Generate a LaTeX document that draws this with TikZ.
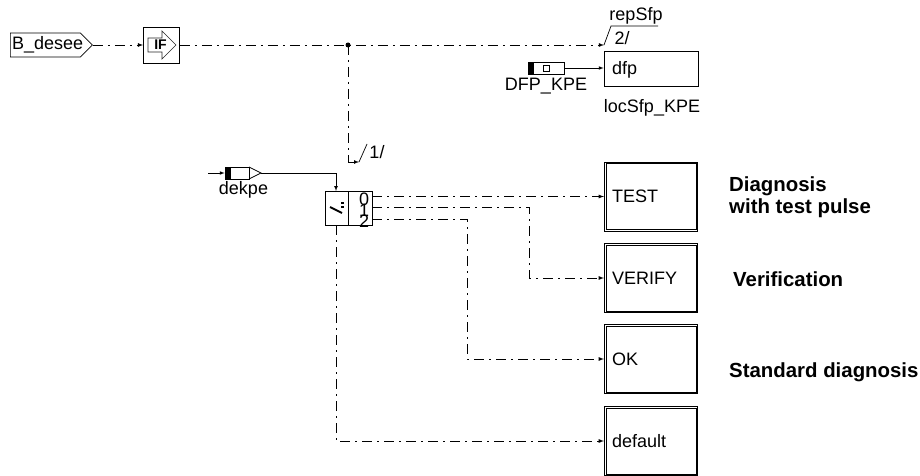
\documentclass[tikz,border=0pt]{standalone}
\usepackage{fontspec}
\setmainfont{Liberation Sans}
\usetikzlibrary{shapes.symbols}
\tikzset{
  flow/.style={->,>=latex,line width=0.8pt,dash pattern=on 10pt off 5pt on 2pt off 5pt},
  wire/.style={->,>=latex,line width=0.7pt},
  outerbox/.style={draw,line width=0.7pt,minimum width=93.5pt,minimum height=69pt},
  txt/.style={inner sep=0pt,font=\fontsize{18}{20}\selectfont},
  bold/.style={txt,anchor=west,font=\fontsize{20.4}{23}\selectfont\bfseries},
}
\begin{document}
\begin{tikzpicture}[x=1pt,y=-1pt]
  \useasboundingbox (0,0) rectangle (920,476);
  % input and if block
  \node[draw,signal,signal to=east,signal pointer angle=90,line width=0.7pt,inner sep=0pt,
    minimum width=82pt,minimum height=24pt,anchor=west] (desee) at (10,45) {};
  \node[txt,anchor=west] (deseetxt) at (12,45) {B\_desee};
  \node[draw,line width=0.8pt,minimum size=36pt,inner sep=0pt] (ifblk) at (161.5,45) {};
  \draw[line width=0.7pt,draw=black!85] (148,38)--(162,38)--(162,31)--(176,45)--(162,59)--(162,52)--(148,52)--cycle;
  \node[inner sep=0pt,font=\fontsize{14}{16}\selectfont\bfseries] (iftxt) at (160.5,45) {IF};
  \draw[flow] (desee.east)--(ifblk.west);
  \coordinate (split) at (348,45);
  \coordinate (repin) at (604,45);
  \draw[flow] (ifblk.east)--(repin);
  \fill (split) circle (2.5pt);
  % reference at the top
  \coordinate (reptop) at (611,26);
  \coordinate (repend) at (658,26);
  \draw[line width=0.7pt] (repin)--(reptop)--(repend);
  \node[txt] (repname) at (636,16) {repSfp};
  \node[txt] (repnum) at (622,38) {2/};
  \node[draw,line width=0.7pt,minimum width=94pt,minimum height=35pt] (dfp) at (651,68.5) {};
  \node[txt,anchor=west] (dfptxt) at (612,70) {dfp};
  \node[draw,line width=0.7pt,minimum width=36pt,minimum height=12pt,inner sep=0pt] (kpe) at (546,68) {};
  \fill (528,62) rectangle (534,74);
  \node[draw,line width=0.7pt,minimum size=6pt,inner sep=0pt] (kpeicon) at (546,68) {};
  \draw[wire] (kpe.east)--(dfp.west |- kpe.east);
  \node[txt] (kpetxt) at (546,86) {DFP\_KPE};
  \node[txt] (loctxt) at (652,108) {locSfp\_KPE};
  % branch down to the switch
  \coordinate (bend) at (348,162);
  \coordinate (bendend) at (359,162);
  \coordinate (slashtop) at (367,144);
  \draw[line width=0.8pt,dash pattern=on 10pt off 5pt on 2pt off 5pt] (split)--(bend);
  \draw[wire] (bend)--(bendend);
  \draw[line width=0.7pt] (bendend)--(slashtop);
  \node[txt] (onetxt) at (377,152) {1/};
  % dekpe source
  \coordinate (dekin) at (208,173);
  \node[draw,line width=0.7pt,minimum width=24pt,minimum height=12pt,inner sep=0pt] (dek) at (237,173) {};
  \fill (225,167) rectangle (231,179);
  \draw[line width=0.7pt] (249,167)--(261,173)--(249,179);
  \coordinate (dekout) at (261,173);
  \draw[wire] (dekin)--(dek.west);
  \node[txt] (dektxt) at (243.5,190) {dekpe};
  % switch
  \node[draw,line width=0.8pt,minimum width=47pt,minimum height=34pt,inner sep=0pt] (sw) at (348.5,208) {};
  \draw[line width=0.8pt] (348,191)--(348,225);
  \draw[line width=2pt] (330,207)--(342,213);
  \fill (341,202) rectangle +(3,2);
  \fill (341,206) rectangle +(3,2);
  \node[txt] (swzero) at (364,199) {0};
  \node[txt] (swone) at (364,210) {1};
  \node[txt] (swtwo) at (364,221) {2};
  \draw[wire] (dekout)-|(336,191);
  % target boxes
  \foreach \nm/\lab/\ypos in {test/TEST/196.5,verify/VERIFY/278,ok/OK/359,dflt/default/441} {
    \node[outerbox] (\nm) at (651,\ypos) {};
    \draw[line width=0.7pt] ([shift={(2,2)}]\nm.north west) rectangle ([shift={(-2,-2)}]\nm.south east);
    \node[txt,anchor=west] (\nm txt) at (612,\ypos) {\lab};
  }
  \draw[flow] (372,196.5)--(test.west);
  \draw[flow] (372,207)-|(529,278)--(verify.west);
  \draw[flow] (372,219)-|(467,359)--(ok.west);
  \draw[flow] (336,225)|-(dflt.west);
  % comments on the right
  \node[bold] (diagone) at (729,186) {Diagnosis};
  \node[bold] (diagtwo) at (729,208) {with test pulse};
  \node[bold] (verif) at (733,279) {Verification};
  \node[bold] (stddiag) at (729,372) {Standard diagnosis};
\end{tikzpicture}
\end{document}
